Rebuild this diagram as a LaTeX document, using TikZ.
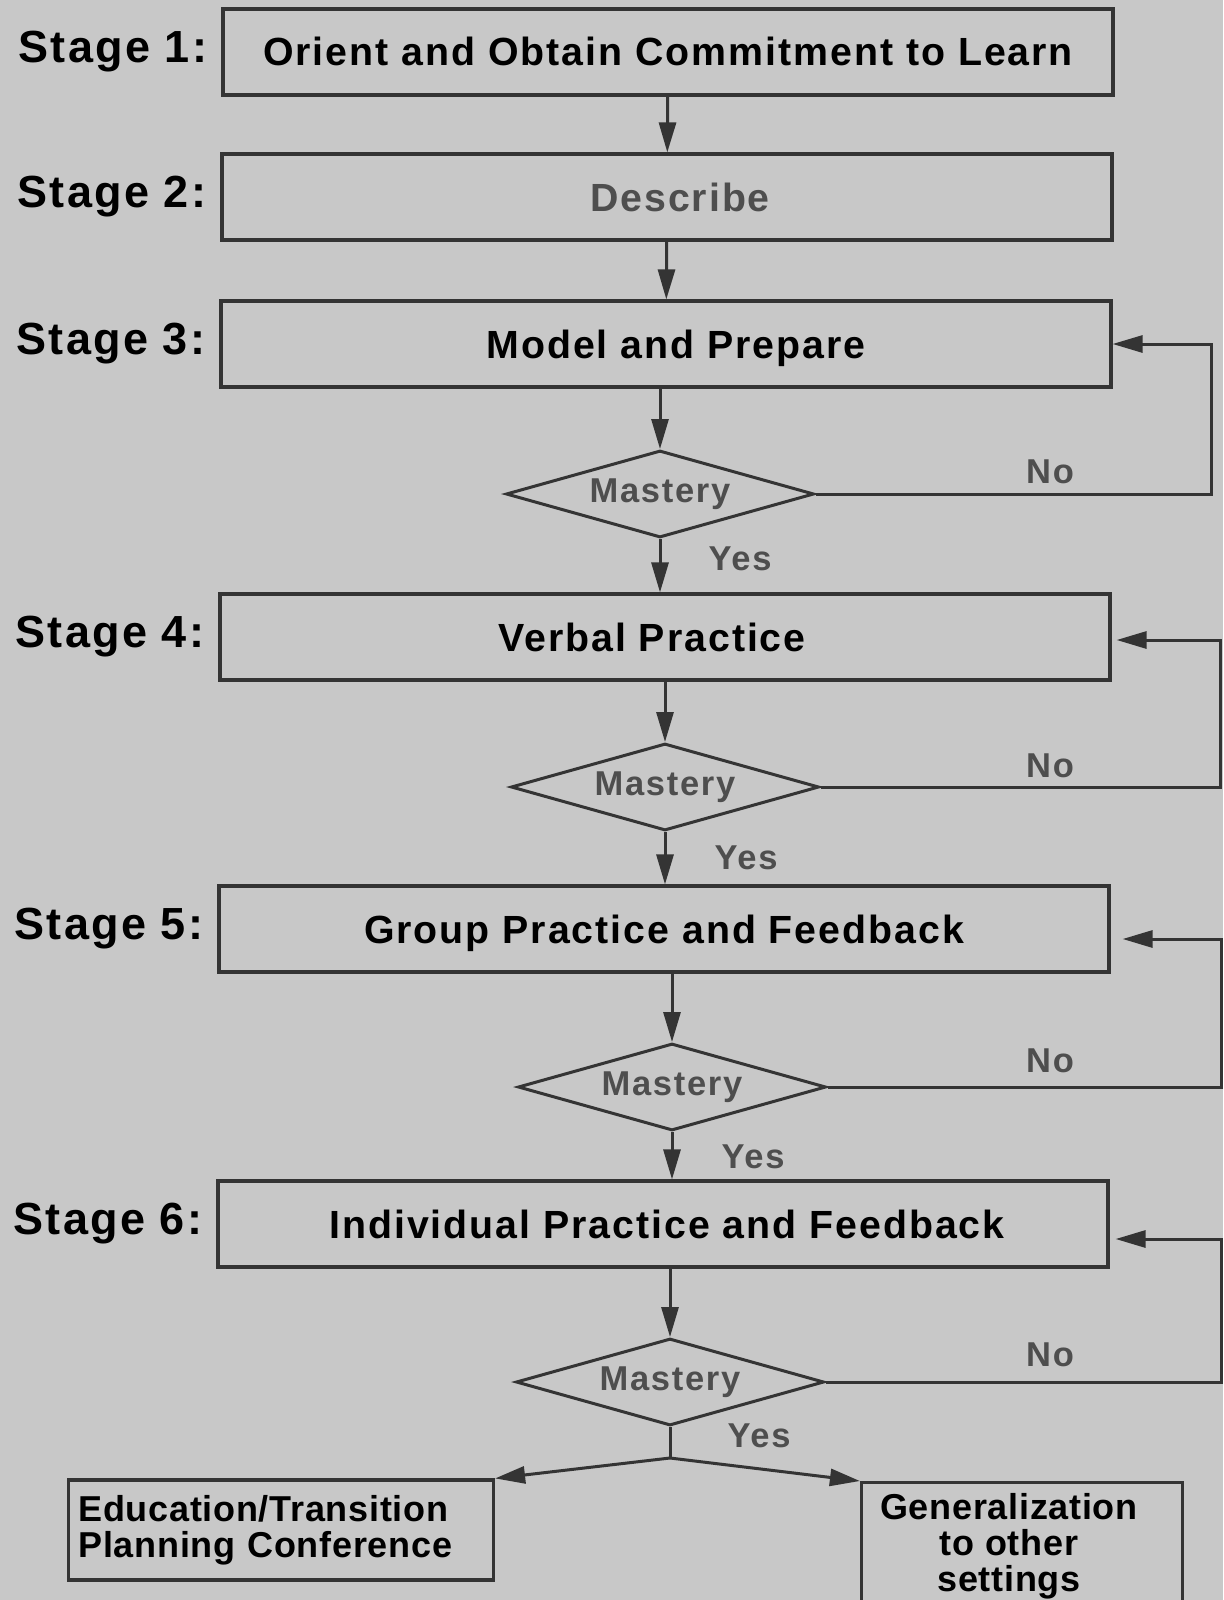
\documentclass[tikz,border=0pt]{standalone}
\usepackage{fontspec}
\setmainfont{Liberation Sans}
\newfontfamily\stagefont{Liberation Sans}[LetterSpace=5]
\newfontfamily\endfont{Liberation Sans}[LetterSpace=2]
\usepackage{tikz}
\usetikzlibrary{shapes.geometric, arrows.meta, positioning, calc}
\definecolor{paper}{RGB}{200,200,200}
\definecolor{ink}{RGB}{52,52,52}
\definecolor{dimtext}{RGB}{78,78,78}

%% 样式定义
\tikzset{
    stagebox/.style={draw=ink, line width=3.2pt, minimum width=890pt, minimum height=86pt,
        inner sep=0pt, text height=28pt, text depth=0pt,
        font=\stagefont\bfseries\fontsize{39.3}{44}\selectfont},
    nudge/.style={execute at begin node={\hspace*{#1}}},
    stagelbl/.style={inner sep=0pt, font=\stagefont\bfseries\fontsize{45}{48}\selectfont},
    mastery/.style={diamond, aspect=3.5, draw=ink, line width=3pt, minimum width=308pt,
        minimum height=87pt, inner sep=0pt, text=dimtext,
        font=\stagefont\bfseries\fontsize{34.5}{36}\selectfont},
    answer/.style={inner sep=0pt, text=dimtext, font=\stagefont\bfseries\fontsize{34.5}{36}\selectfont},
    endbox/.style={draw=ink, line width=3.2pt, inner sep=0pt},
    endlbl/.style={inner sep=0pt, font=\endfont\bfseries\fontsize{36}{36}\selectfont},
    flow/.style={draw=ink, line width=3pt, -{Triangle[length=30pt, width=17pt]}},
    rail/.style={draw=ink, line width=3pt}
}

\begin{document}
\begin{tikzpicture}[x=1pt, y=-1pt]
    %% 画布
    \useasboundingbox (0,0) rectangle (1223,1600);
    \clip (0,0) rectangle (1223,1600);
    \fill[paper] (0,0) rectangle (1223,1600);

    %% 六个阶段
    \node[stagebox] (b1) at (668,52) {Orient and Obtain Commitment to Learn};
    \node[stagebox, text=dimtext, nudge=26pt] (b2) at (667,197) {Describe};
    \node[stagebox, nudge=20pt] (b3) at (666,344) {Model and Prepare};
    \node[stagebox, nudge=-26pt] (b4) at (665,637) {Verbal Practice};
    \node[stagebox] (b5) at (664,929) {Group Practice and Feedback};
    \node[stagebox, nudge=8pt] (b6) at (663,1224) {Individual Practice and Feedback};
    \foreach \i in {1,...,6}{
        \node[stagelbl, left=14pt of b\i] (s\i) {Stage \i:};
    }

    %% 判断框
    \foreach \i/\x/\y in {1/660/494, 2/665/787, 3/672/1087, 4/670/1382}{
        \node[mastery] (d\i) at (\x,\y) {Mastery};
    }
    \foreach \i/\yx/\yy/\ny in {1/740/559/472, 2/746/858/766, 3/753/1157/1061, 4/759/1436/1355}{
        \node[answer] (yes\i) at (\yx,\yy) {Yes};
        \node[answer] (no\i) at (1050,\ny) {No};
    }

    %% 结尾两个框
    \node[endbox, minimum width=425pt, minimum height=100pt] (eb) at (281,1530) {};
    \node[endlbl, text width=405pt, align=left] (et) at (eb.center) {Education/Transition\\Planning Conference};
    \node[endbox, anchor=north, minimum width=321pt, minimum height=125pt] (gb) at (1022,1481) {};
    \node[endlbl, align=center, anchor=north] (gt) at ($(gb.north)+(-13,12)$) {Generalization\\to other\\settings};

    %% 主流程箭头
    \draw[flow] (b1) -- (b2);
    \draw[flow] (b2) -- (b3);
    \draw[flow] (b3.south -| d1) -- (d1.north);
    \draw[flow] (d1.south) -- (d1.south |- b4.north);
    \draw[flow] (b4.south -| d2) -- (d2.north);
    \draw[flow] (d2.south) -- (d2.south |- b5.north);
    \draw[flow] (b5.south -| d3) -- (d3.north);
    \draw[flow] (d3.south) -- (d3.south |- b6.north);
    \draw[flow] (b6.south -| d4) -- (d4.north);

    %% 分叉
    \draw[rail] (d4.south) -- ++(0,31) coordinate (fork);
    \draw[flow] (fork) -- (eb.north east);
    \draw[flow] (fork) -- (gb.north west);

    %% 回路 (No)
    \coordinate (r1) at (1211,0);
    \coordinate (r2) at (1220,0);
    \coordinate (r3) at (1221,0);
    \coordinate (r4) at (1221,0);
    \draw[flow] (d1.east) -- (d1.east -| r1) |- (b3.east);
    \draw[flow, shorten >=5pt] (d2.east) -- (d2.east -| r2) |- ($(b4.east)+(0,3)$);
    \draw[flow, shorten >=12pt] (d3.east) -- (d3.east -| r3) |- ($(b5.east)+(0,10)$);
    \draw[flow, shorten >=6pt] (d4.east) -- (d4.east -| r4) |- ($(b6.east)+(0,15)$);
\end{tikzpicture}
\end{document}
